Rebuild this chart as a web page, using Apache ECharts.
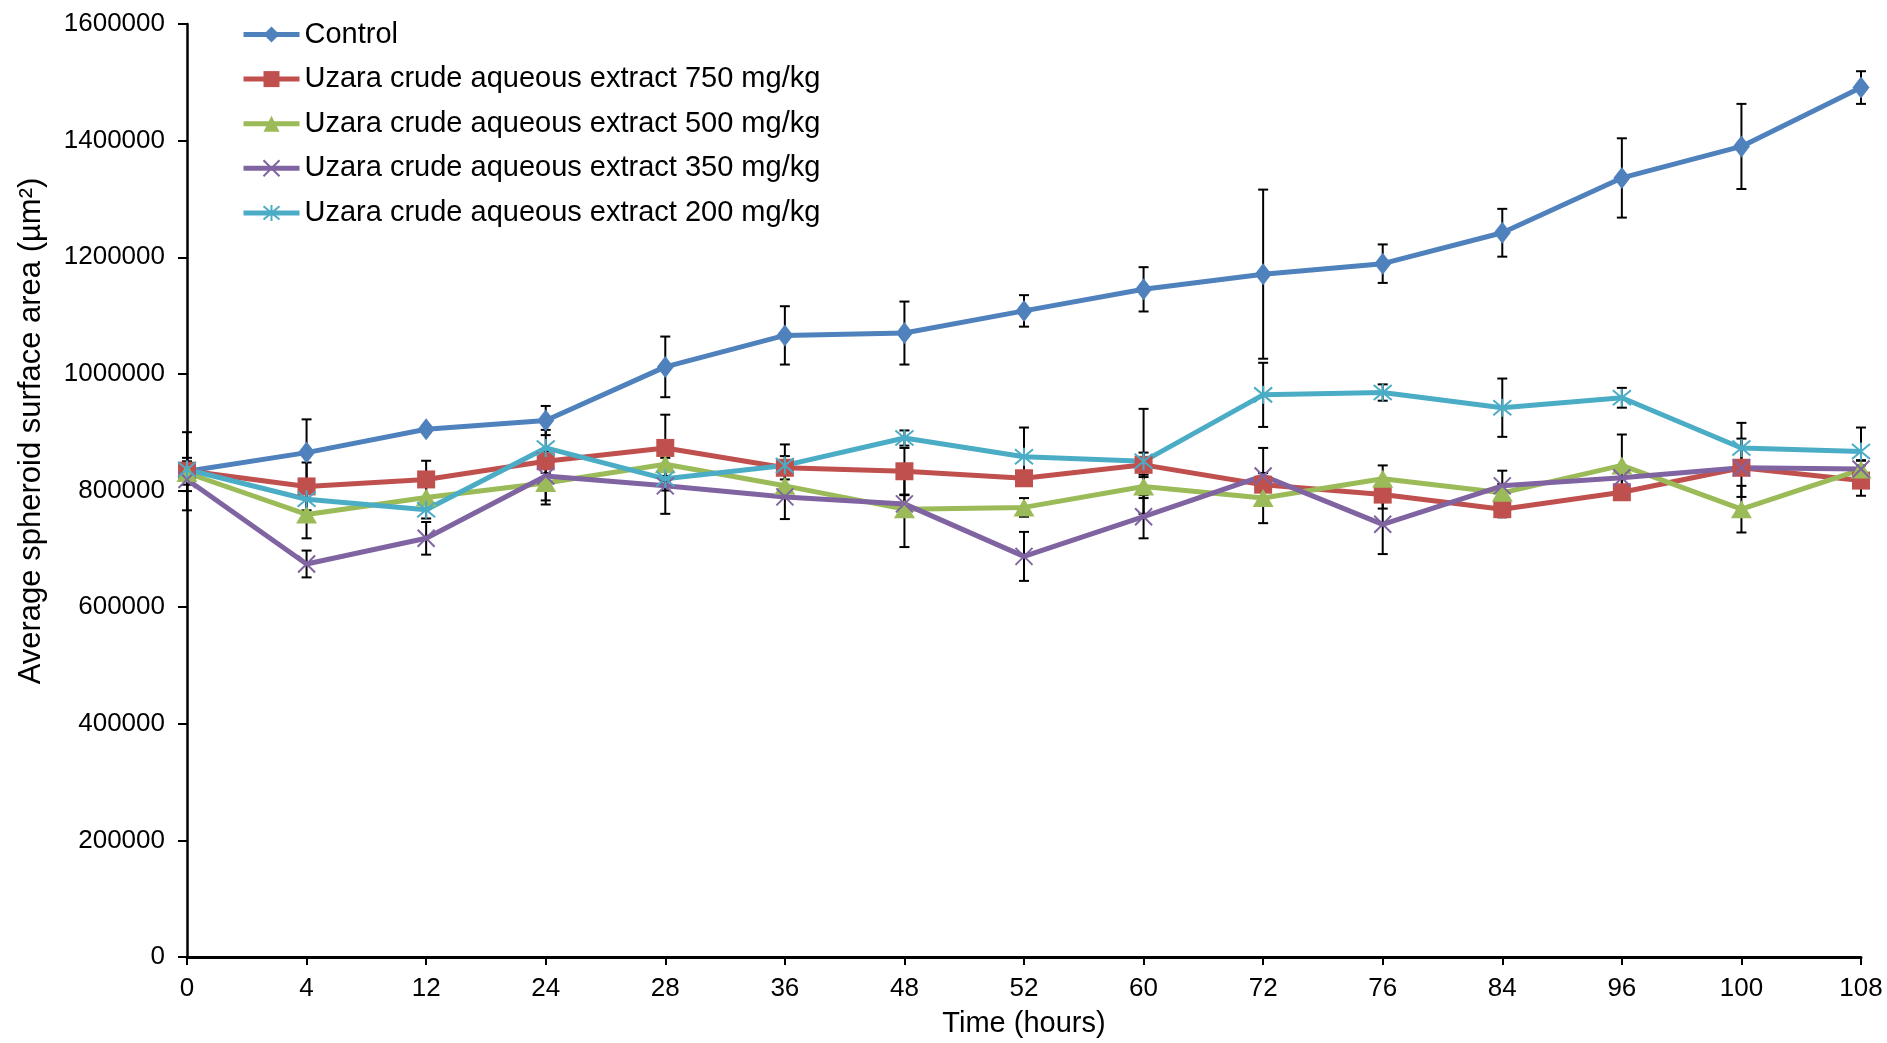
<!DOCTYPE html>
<html>
<head>
<meta charset="utf-8">
<script src="https://cdn.jsdelivr.net/npm/echarts@6/dist/echarts.min.js"></script>
<style>
html,body{margin:0;padding:0;background:#fff;}
#chart{width:1887px;height:1043px;}
</style>
</head>
<body>
<div id="chart"></div>
<script>
const categories = ['0','4','12','24','28','36','48','52','60','72','76','84','96','100','108'];
const yTicks = [0,200000,400000,600000,800000,1000000,1200000,1400000,1600000];

const seriesNames = ['Control','Uzara crude aqueous extract 750 mg/kg','Uzara crude aqueous extract 500 mg/kg','Uzara crude aqueous extract 350 mg/kg','Uzara crude aqueous extract 200 mg/kg'];

const control    = [833000, 865000, 905000, 920000, 1012000, 1066000, 1070000, 1108000, 1145000, 1171000, 1189000, 1242000, 1336000, 1390000, 1491000];
const controlErr = [67000, 57000, 6000, 25000, 52000, 50000, 54000, 27000, 38000, 145000, 33000, 41000, 68000, 73000, 28000];

const ext750    = [834000, 807000, 819000, 850000, 873000, 839000, 833000, 821000, 844000, 810000, 793000, 768000, 797000, 839000, 817000];
const ext750Err = [15000, 41000, 32000, 20000, 57000, 20000, 40000, 10000, 21000, 10000, 24000, 14000, 10000, 50000, 26000];

const ext500    = [830000, 759000, 788000, 813000, 845000, 808000, 768000, 771000, 807000, 787000, 820000, 796000, 843000, 768000, 836000];
const ext500Err = [20000, 41000, 20000, 37000, 20000, 20000, 65000, 16000, 20000, 43000, 23000, 15000, 53000, 40000, 15000];

const ext350    = [819000, 674000, 718000, 825000, 808000, 789000, 777000, 687000, 755000, 825000, 742000, 808000, 822000, 839000, 837000];
const ext350Err = [20000, 23000, 28000, 42000, 48000, 38000, 15000, 42000, 37000, 48000, 51000, 26000, 15000, 10000, 15000];

const ext200    = [836000, 785000, 767000, 873000, 820000, 843000, 890000, 858000, 850000, 964000, 968000, 942000, 959000, 873000, 867000];
const ext200Err = [20000, 30000, 15000, 31000, 20000, 36000, 13000, 50000, 90000, 55000, 14000, 50000, 17000, 43000, 41000];

const FONT = "'Liberation Sans', Arial, sans-serif";
const colors = ['#4F81BD','#C0504D','#9BBB59','#8064A2','#4BACC6'];
const values = [control, ext750, ext500, ext350, ext200];
const errs = [controlErr, ext750Err, ext500Err, ext350Err, ext200Err];
const symbols = [
  {symbol:'diamond', size:[17,22], border:0},
  {symbol:'rect', size:18, border:0},
  {symbol:'triangle', size:[21,18], border:0},
  {symbol:'path://M0,0 L10,10 M10,0 L0,10', size:17, border:2},
  {symbol:'path://M0,0 L10,10 M10,0 L0,10 M5,-1 L5,11', size:18, border:2}
];

function errRender(params, api){
  const x = api.value(0), lo = api.value(1), hi = api.value(2);
  const a = api.coord([x, lo]), b = api.coord([x, hi]);
  const w = 5;
  const st = {stroke:'#000', lineWidth:2};
  return {type:'group', children:[
    {type:'line', shape:{x1:b[0], y1:b[1], x2:a[0], y2:a[1]}, style:st},
    {type:'line', shape:{x1:b[0]-w, y1:b[1], x2:b[0]+w, y2:b[1]}, style:st},
    {type:'line', shape:{x1:a[0]-w, y1:a[1], x2:a[0]+w, y2:a[1]}, style:st}
  ]};
}

const series = [];
for (let s = 0; s < 5; s++) {
  series.push({
    type:'custom', name:'err'+s, renderItem: errRender,
    encode:{x:0, y:[1,2]},
    data: values[s].map((v,i)=>[i, v-errs[s][i], v+errs[s][i]]),
    z:2, silent:true
  });
  series.push({
    type:'line', name: seriesNames[s], data: values[s],
    symbol: symbols[s].symbol, symbolSize: symbols[s].size,
    showAllSymbol:true,
    lineStyle:{color:colors[s], width:5},
    itemStyle:{color:colors[s], borderColor:colors[s], borderWidth:symbols[s].border},
    z:2
  });
}

const chart = echarts.init(document.getElementById('chart'), null, {renderer:'canvas'});
chart.setOption({
  animation:false,
  backgroundColor:'#fff',
  textStyle:{fontFamily:FONT},
  grid:{left:187, right:26, top:24, bottom:73, containLabel:false},
  legend:{
    data: seriesNames, orient:'vertical', left:241, top:19,
    itemWidth:56, itemHeight:20, itemGap:13.6, padding:0,
    lineStyle:{width:5},
    textStyle:{fontSize:29, color:'#000', fontFamily:FONT, lineHeight:31}
  },
  xAxis:{
    type:'category', data:categories, boundaryGap:false,
    axisLine:{show:true, lineStyle:{color:'#000', width:3}},
    axisTick:{show:true, length:8, alignWithLabel:true, lineStyle:{color:'#000', width:2}},
    axisLabel:{fontSize:26, color:'#000', margin:19, fontFamily:FONT, interval:0},
    splitLine:{show:false},
    name:'Time (hours)', nameLocation:'middle', nameGap:52,
    nameTextStyle:{fontSize:29, color:'#000', fontFamily:FONT}
  },
  yAxis:{
    type:'value', min:yTicks[0], max:yTicks[yTicks.length-1], interval:yTicks[1]-yTicks[0],
    axisLine:{show:true, lineStyle:{color:'#000', width:2.5}},
    axisTick:{show:true, length:9, lineStyle:{color:'#000', width:2}},
    axisLabel:{fontSize:26, color:'#000', margin:22, fontFamily:FONT, formatter:(v)=>String(v)},
    splitLine:{show:false}
  },
  graphic:[{
    type:'text', x:31, y:431, rotation:Math.PI/2,
    style:{text:'Average spheroid surface area (µm²)', font:'31px ' + FONT, fill:'#000', align:'center', verticalAlign:'middle'}
  }],
  series: series
});
</script>
</body>
</html>
